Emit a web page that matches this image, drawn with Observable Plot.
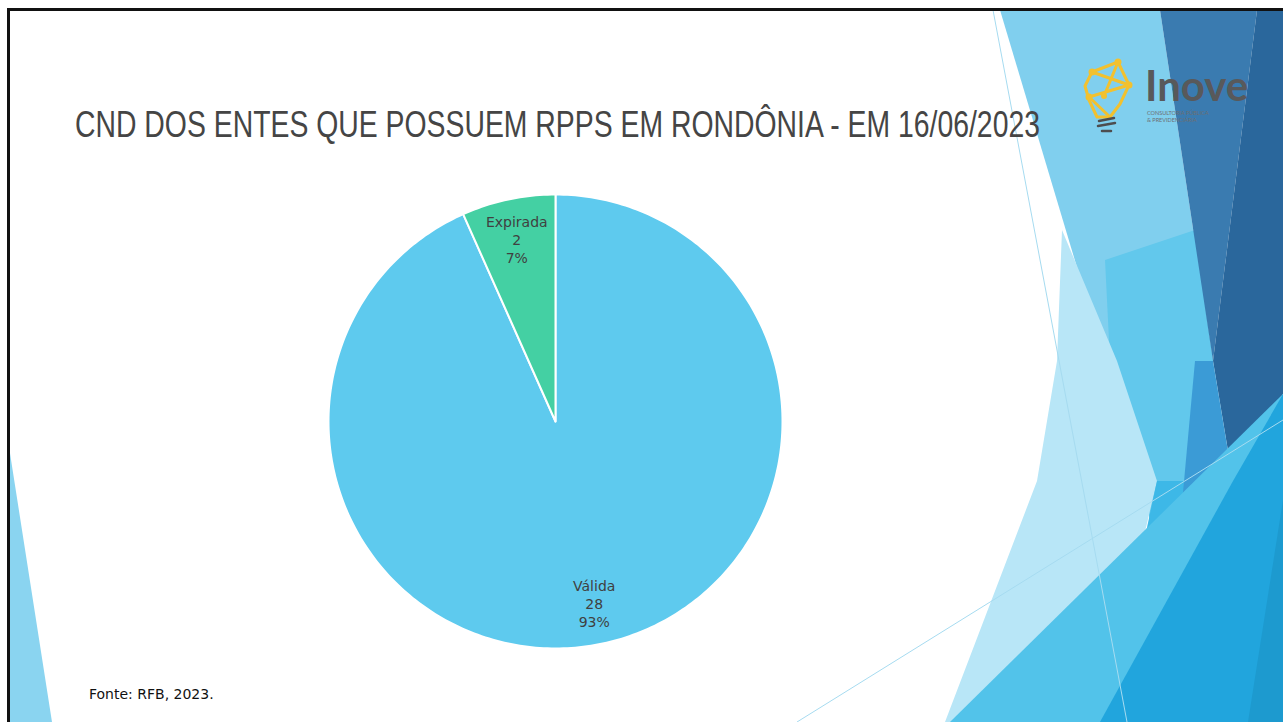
<!DOCTYPE html>
<html lang="pt-BR">
<head>
<meta charset="utf-8">
<script src="https://cdn.jsdelivr.net/npm/d3@7"></script>
<script src="https://cdn.jsdelivr.net/npm/@observablehq/plot@0.6"></script>
<style>
  html, body { margin: 0; padding: 0; background: #fff; }
  body { width: 1283px; height: 722px; position: relative; overflow: hidden; font-family: "DejaVu Sans", sans-serif; }
  #deco { position: absolute; left: 0; top: 0; }
  #frame { position: absolute; left: 7px; top: 8px; width: 1300px; height: 740px; border-left: 3px solid #111; border-top: 3px solid #111; box-sizing: border-box; pointer-events: none; }
  #title { position: absolute; left: 75px; top: 106px; font-family: "Liberation Sans Narrow", "Liberation Sans", sans-serif; font-size: 37px; line-height: 37px; color: #454545; white-space: nowrap; transform-origin: 0 0; }
  #chart { position: absolute; left: 315px; top: 181px; }
  #source { position: absolute; left: 89px; top: 686px; font-family: "DejaVu Sans", sans-serif; font-size: 14px; line-height: 16px; color: #111; white-space: nowrap; }
</style>
</head>
<body>
<svg id="deco" width="1283" height="722" xmlns="http://www.w3.org/2000/svg">
  <polygon points="9,447 9,722 52,722" fill="#8ad4f0"/>
  <polygon points="1000,10 1160,10 1213,361 1105,361" fill="#80cfee"/>
  <polygon points="1105,260 1195,230 1213,361 1200,500 1160,560 1110,361" fill="#62c8ec"/>
  <polygon points="1062,230 1117,361 1157,481 1100,722 945,722 1037,481 1057,361" fill="#b8e6f7"/>
  <polygon points="1157,481 1195,481 1190,540 1140,560" fill="#3db8e7"/>
  <polygon points="1160,10 1257,10 1213,361" fill="#3a7bb0"/>
  <polygon points="1257,10 1283,10 1283,394 1233,481 1213,361" fill="#2a679c"/>
  <polygon points="1195,361 1213,361 1233,481 1175,580" fill="#3b9bd6"/>
  <polygon points="950,722 1283,394 1283,722" fill="#52c3ea"/>
  <polygon points="1100,722 1233,481 1283,394 1283,722" fill="#21a5dd"/>
  <polygon points="1248,722 1283,722 1283,500" fill="#1d9acf"/>
  <line x1="797" y1="722" x2="1283" y2="420" stroke="#a6dbf0" stroke-width="1"/>
  <line x1="993" y1="10" x2="1127" y2="722" stroke="#a6dbf0" stroke-width="1"/>
  <!-- logo -->
  <g fill="none" stroke="#f2c12e" stroke-width="3" stroke-linejoin="round" stroke-linecap="round">
    <path d="M1092,72 L1118,62 L1129,85 L1120,104 L1110,117 L1097,117 L1089,100 L1085,86 Z"/>
    <path d="M1092,72 L1129,85 M1089,97 L1129,85 M1089,97 L1110,117 M1118,62 L1104,96"/>
  </g>
  <g fill="#f2c12e">
    <circle cx="1092" cy="72" r="3.5"/><circle cx="1118" cy="62" r="3.5"/><circle cx="1129" cy="85" r="3.5"/>
    <circle cx="1089" cy="97" r="3.5"/><circle cx="1104" cy="96" r="3"/>
  </g>
  <g stroke="#4d4d4f" stroke-width="2.5" stroke-linecap="round">
    <line x1="1099" y1="121" x2="1114" y2="118"/>
    <line x1="1098" y1="126" x2="1115" y2="123"/>
    <line x1="1102" y1="131" x2="1111" y2="131"/>
  </g>
  <text x="1145" y="101" font-family="Lato, 'Open Sans', sans-serif" font-size="42" fill="#58595b" font-weight="bold">Inove</text>
  <text x="1147" y="115" font-family="Lato, sans-serif" font-size="5.5" fill="#6d6e70">CONSULTORIA PÚBLICA</text>
  <text x="1147" y="122" font-family="Lato, sans-serif" font-size="5.5" fill="#6d6e70">&amp; PREVIDENCIÁRIA</text>
</svg>
<div id="frame"></div>
<div id="title">CND DOS ENTES QUE POSSUEM RPPS EM RONDÔNIA - EM 16/06/2023</div>
<div id="chart"></div>
<div id="source">Fonte: RFB, 2023.</div>
<script>
// ---- data ----
const categories = ["Válida", "Expirada"];
const values = [28, 2];
const sliceColors = ["#5ecaee", "#44d0a3"];

// ---- geometry derived from the data ----
const total = d3.sum(values);
const arcs = d3.pie().sort(null).value((d, i) => values[i])(categories);
const step = Math.PI / 180;
const slicePoints = [];
const labels = [];
arcs.forEach((a, i) => {
  const name = categories[i];
  slicePoints.push({name, x: 0, y: 0});
  const n = Math.max(2, Math.ceil((a.endAngle - a.startAngle) / step));
  for (let k = 0; k <= n; k++) {
    const t = a.startAngle + (a.endAngle - a.startAngle) * k / n;
    slicePoints.push({name, x: Math.sin(t), y: Math.cos(t)});
  }
  const mid = (a.startAngle + a.endAngle) / 2;
  labels.push({
    name,
    x: 0.82 * Math.sin(mid),
    y: 0.82 * Math.cos(mid),
    text: `${name}\n${values[i]}\n${Math.round(values[i] / total * 100)}%`
  });
});

const chart = Plot.plot({
  width: 480,
  height: 480,
  margin: 13,
  x: {domain: [-1, 1], axis: null},
  y: {domain: [-1, 1], axis: null},
  color: {domain: categories, range: sliceColors},
  style: {background: "transparent", overflow: "visible"},
  marks: [
    Plot.line(slicePoints, {x: "x", y: "y", z: "name", fill: "name", stroke: "white", strokeWidth: 2, strokeLinejoin: "round", curve: "linear-closed"}),
    Plot.text(labels, {x: "x", y: "y", text: "text", fill: "#404040", fontSize: 14, lineHeight: 1.29, fontFamily: "DejaVu Sans, sans-serif"})
  ]
});
document.getElementById("chart").appendChild(chart);

// fit title width to the reference
const title = document.getElementById("title");
const w = title.getBoundingClientRect().width;
title.style.transform = `scaleX(${965 / w})`;
</script>
</body>
</html>
